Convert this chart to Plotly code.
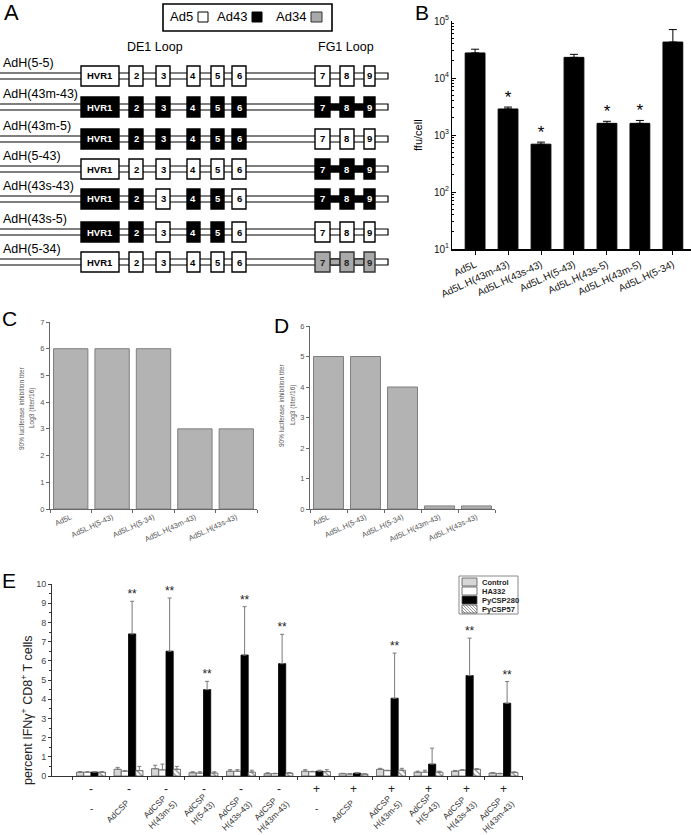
import plotly.graph_objects as go

# ---------------- DATA ----------------
# Panel A: constructs and serotype origin of each hypervariable region
constructs = ["AdH(5-5)", "AdH(43m-43)", "AdH(43m-5)", "AdH(5-43)",
              "AdH(43s-43)", "AdH(43s-5)", "AdH(5-34)"]
region_names = ["HVR1", "2", "3", "4", "5", "6", "7", "8", "9"]
comp_5_5 = ["5", "5", "5", "5", "5", "5", "5", "5", "5"]
comp_43m_43 = ["43", "43", "43", "43", "43", "43", "43", "43", "43"]
comp_43m_5 = ["43", "43", "43", "43", "43", "43", "5", "5", "5"]
comp_5_43 = ["5", "5", "5", "5", "5", "5", "43", "43", "43"]
comp_43s_43 = ["43", "43", "5", "43", "43", "5", "43", "43", "43"]
comp_43s_5 = ["43", "43", "5", "43", "43", "5", "5", "5", "5"]
comp_5_34 = ["5", "5", "5", "5", "5", "5", "34", "34", "34"]
compositions = [comp_5_5, comp_43m_43, comp_43m_5, comp_5_43,
                comp_43s_43, comp_43s_5, comp_5_34]
legend_a = ["Ad5", "Ad43", "Ad34"]

# Panel B
b_labels = ["Ad5L", "Ad5L.H(43m-43)", "Ad5L.H(43s-43)", "Ad5L.H(5-43)",
            "Ad5L.H(43s-5)", "Ad5L.H(43m-5)", "Ad5L.H(5-34)"]
b_values = [27500, 2860, 690, 23000, 1600, 1600, 42700]
b_err = [4500, 230, 60, 3000, 140, 200, 28000]
b_sig = ["", "*", "*", "", "*", "*", ""]
b_tickvals = [10, 100, 1000, 10000, 100000]
b_ticktext = ["10<sup>1</sup>", "10<sup>2</sup>", "10<sup>3</sup>", "10<sup>4</sup>", "10<sup>5</sup>"]

# Panels C and D
cd_labels = ["Ad5L", "Ad5L.H(5-43)", "Ad5L.H(5-34)", "Ad5L.H(43m-43)", "Ad5L.H(43s-43)"]
c_values = [6, 6, 6, 3, 3]
d_values = [5, 5, 4, 0.1, 0.1]

# Panel E
e_row1 = ["-", "-", "-", "-", "-", "-", "+", "+", "+", "+", "+", "+"]
e_row2 = ["-", "AdCSP", "AdCSP<br>H(43m-5)", "AdCSP<br>H(5-43)", "AdCSP<br>H(43s-43)",
          "AdCSP<br>H(43m-43)",
          "-", "AdCSP", "AdCSP<br>H(43m-5)", "AdCSP<br>H(5-43)", "AdCSP<br>H(43s-43)",
          "AdCSP<br>H(43m-43)"]
e_series = ["Control", "HA332", "PyCSP280", "PyCSP57"]
e_control = [0.20, 0.35, 0.38, 0.17, 0.25, 0.12, 0.25, 0.12, 0.35, 0.20, 0.25, 0.15]
e_ha332 = [0.20, 0.25, 0.32, 0.15, 0.25, 0.12, 0.22, 0.10, 0.28, 0.20, 0.30, 0.12]
e_py280 = [0.20, 7.40, 6.50, 4.50, 6.30, 5.85, 0.25, 0.15, 4.05, 0.62, 5.23, 3.79]
e_py57 = [0.20, 0.28, 0.35, 0.15, 0.20, 0.15, 0.23, 0.10, 0.30, 0.20, 0.35, 0.18]
e_control_err = [0.03, 0.10, 0.18, 0.05, 0.08, 0.05, 0.08, 0.02, 0.05, 0.05, 0.04, 0.03]
e_ha332_err = [0.02, 0.03, 0.30, 0.07, 0.08, 0.02, 0.02, 0.02, 0.02, 0.10, 0.03, 0.02]
e_py280_err = [0.03, 1.70, 2.77, 0.43, 2.52, 1.53, 0.05, 0.02, 2.35, 0.83, 1.95, 1.13]
e_py57_err = [0.03, 0.22, 0.15, 0.07, 0.10, 0.03, 0.10, 0.02, 0.10, 0.05, 0.03, 0.04]
e_sig = ["", "**", "**", "**", "**", "**", "", "", "**", "", "**", "**"]

# ---------------- STYLE / LAYOUT CONSTANTS ----------------
W, H = 691, 835
FONT = "Arial, Liberation Sans, sans-serif"


def fx(p):
    return p / W


def fy(p):
    return 1 - p / H


sero_fill = {"5": "white", "43": "black", "34": "#a9a9a9"}
sero_text = {"5": "black", "43": "white", "34": "#222"}
row_y = [76, 107, 139, 169, 199, 232, 262]
region_x = [(81, 119), (129, 143), (156, 170), (187, 200), (211, 224), (232, 246),
            (315, 330), (340, 354), (364, 375)]
BAR_END = 388

shapes = []
annots = []


def rect(x0, y0, x1, y1, fill, line="black", lw=1.2):
    shapes.append(dict(type="rect", xref="paper", yref="paper", x0=fx(x0), x1=fx(x1),
                       y0=fy(y1), y1=fy(y0), fillcolor=fill,
                       line=dict(color=line, width=lw), layer="above"))


def text(x, y, s, size, color="black", xanchor="center", yanchor="middle", bold=False,
         angle=0):
    annots.append(dict(x=fx(x), y=fy(y), xref="paper", yref="paper", text=s,
                       showarrow=False, xanchor=xanchor, yanchor=yanchor, textangle=angle,
                       font=dict(family=FONT, size=size, color=color,
                                 weight="bold" if bold else "normal")))


# ---------------- PANEL A ----------------
text(2, 13, "A", 22, xanchor="left")
rect(163, 4, 332, 31, "white", lw=1.6)
leg_sw = [(198, 208), (252, 262), (311, 322)]
leg_keys = ["5", "43", "34"]
for name, (s0, s1), key in zip(legend_a, leg_sw, leg_keys):
    text(s0 - 3, 17, name, 13, xanchor="right")
    rect(s0, 12, s1, 22, sero_fill[key], line="#333" if key == "34" else "black", lw=1)
text(155, 47, "DE1 Loop", 12.5)
text(346, 47, "FG1 Loop", 12.5)

for name, comp, cy in zip(constructs, compositions, row_y):
    text(1, cy - 13, name, 12.5, xanchor="left")
    rect(-2, cy - 3, BAR_END, cy + 3, "white", lw=1.2)
    fg = comp[7]
    if fg != "5":
        rect(region_x[6][1], cy - 3, region_x[7][0], cy + 3, sero_fill[fg], lw=1.2)
        rect(region_x[7][1], cy - 3, region_x[8][0], cy + 3, sero_fill[fg], lw=1.2)
    for lab, sero, (x0, x1) in zip(region_names, comp, region_x):
        rect(x0, cy - 10, x1, cy + 10, sero_fill[sero],
             line="#333" if sero == "34" else "black", lw=1.4)
        text((x0 + x1) / 2, cy, lab, 9.5, color=sero_text[sero], bold=True)

# ---------------- PANEL LETTERS ----------------
text(413, 12, "B", 21, xanchor="left")
text(0, 318, "C", 21, xanchor="left")
text(272, 325, "D", 21, xanchor="left")
text(0, 580, "E", 21, xanchor="left")

fig = go.Figure()

# ---------------- PANEL B ----------------
bx = list(range(len(b_labels)))
fig.add_trace(go.Bar(
    x=bx, y=b_values, width=0.6, xaxis="x", yaxis="y", showlegend=False,
    marker=dict(color="black", line=dict(color="black", width=1)),
    error_y=dict(type="data", symmetric=False, array=b_err, arrayminus=[0] * len(b_err),
                 color="black", thickness=1, width=4)))
sx = [i for i, s in enumerate(b_sig) if s]
fig.add_trace(go.Scatter(
    x=sx, y=[b_values[i] + b_err[i] for i in sx], text=[b_sig[i] for i in sx],
    mode="text", textposition="top center", xaxis="x", yaxis="y", showlegend=False,
    textfont=dict(family=FONT, size=17, color="black"), cliponaxis=False))
text(418, 135, "ffu/cell", 11, angle=-90)

# ---------------- PANELS C & D ----------------
cx = list(range(len(cd_labels)))
fig.add_trace(go.Bar(x=cx, y=c_values, width=0.83, xaxis="x2", yaxis="y2", showlegend=False,
                     marker=dict(color="#b3b3b3", line=dict(color="#7f7f7f", width=1))))
fig.add_trace(go.Bar(x=cx, y=d_values, width=0.81, xaxis="x3", yaxis="y3", showlegend=False,
                     marker=dict(color="#b3b3b3", line=dict(color="#7f7f7f", width=1))))
text(21, 408, "90% luciferase inhibition titer", 6.5, color="#555", angle=-90)
text(32, 408, "Log3 (titer/16)", 6.5, color="#555", angle=-90)
text(282, 405, "90% luciferase inhibition titer", 6.5, color="#555", angle=-90)
text(293, 405, "Log3 (titer/16)", 6.5, color="#555", angle=-90)

# ---------------- PANEL E ----------------
ex = list(range(len(e_row1)))
e_vals = [e_control, e_ha332, e_py280, e_py57]
e_errs = [e_control_err, e_ha332_err, e_py280_err, e_py57_err]
e_marker = [
    dict(color="#d6d6d6", line=dict(color="#555", width=0.8)),
    dict(color="white", line=dict(color="#555", width=0.8)),
    dict(color="black", line=dict(color="black", width=0.8)),
    dict(color="white", line=dict(color="#555", width=0.8),
         pattern=dict(shape="\\", fgcolor="#666", bgcolor="white", size=4, solidity=0.25)),
]
for name, vals, errs, mk in zip(e_series, e_vals, e_errs, e_marker):
    fig.add_trace(go.Bar(
        x=ex, y=vals, name=name, xaxis="x4", yaxis="y4", showlegend=False, marker=mk,
        error_y=dict(type="data", symmetric=False, array=errs, arrayminus=[0] * len(errs),
                     color="#7a7a7a", thickness=1, width=2)))
STAR_OFF = 0.096
es = [i for i, s in enumerate(e_sig) if s]
fig.add_trace(go.Scatter(
    x=[i + STAR_OFF for i in es], y=[e_py280[i] + e_py280_err[i] for i in es],
    text=[e_sig[i] for i in es], mode="text", textposition="top center",
    xaxis="x4", yaxis="y4", showlegend=False, cliponaxis=False,
    textfont=dict(family=FONT, size=12, color="#222")))
for i, s in enumerate(e_row1):
    annots.append(dict(x=i, y=fy(789), xref="x4", yref="paper", text=s, showarrow=False,
                       xanchor="center", yanchor="middle",
                       font=dict(family=FONT, size=12, color="#222")))
# second row of group labels (rotated)
for i, s in enumerate(e_row2):
    nlines = s.count("<br>") + 1
    if s == "-":
        annots.append(dict(x=i, y=fy(808), xref="x4", yref="paper", text=s, showarrow=False,
                           xanchor="center", yanchor="middle",
                           font=dict(family=FONT, size=10, color="#333")))
        continue
    annots.append(dict(x=i, y=fy(788 if nlines > 1 else 795), xref="x4", yref="paper",
                       text=s, showarrow=False, textangle=-45, align="center",
                       xanchor="right", yanchor="top", xshift=16 if nlines > 1 else 6,
                       font=dict(family=FONT, size=8.5, color="#333")))
text(27, 711, "percent IFN\u03b3<sup>+</sup> CD8<sup>+</sup> T cells", 12.5, color="#222",
     angle=-90)

# manual legend for E
rect(459, 576, 518, 614, "white", line="#888", lw=1)
leg_rows = [582, 591, 600, 609]
leg_fill = ["#d6d6d6", "white", "black", "white"]
for name, ly, fill in zip(e_series, leg_rows, leg_fill):
    rect(462, ly - 4, 477, ly + 4, fill, line="#555", lw=0.8)
    text(480, ly, name, 7.5, color="#222", xanchor="left", bold=True)
# hatch for PyCSP57 swatch
hx0, hx1, hy0, hy1 = 462, 477, leg_rows[3] - 4, leg_rows[3] + 4
hh = hy1 - hy0
k = hx0 - hh
while k < hx1:
    t0 = max(0, (hx0 - k) / hh)
    t1 = min(1, (hx1 - k) / hh)
    if t1 > t0:
        shapes.append(dict(type="line", xref="paper", yref="paper",
                           x0=fx(k + t0 * hh), y0=fy(hy0 + t0 * hh),
                           x1=fx(k + t1 * hh), y1=fy(hy0 + t1 * hh),
                           line=dict(color="#666", width=0.7), layer="above"))
    k += 3

# ---------------- LAYOUT ----------------
def minor_log():
    vals = []
    for dec in [10, 100, 1000, 10000]:
        for m in range(2, 10):
            vals.append(dec * m)
    return vals


axis_common = dict(showgrid=False, zeroline=False, fixedrange=True, automargin=False)
fig.update_layout(
    template="none",
    width=W, height=H, autosize=False,
    margin=dict(l=0, r=0, t=0, b=0, pad=0),
    paper_bgcolor="white", plot_bgcolor="rgba(0,0,0,0)",
    font=dict(family=FONT),
    barmode="group", bargap=0.23, bargroupgap=0,
    showlegend=False,
    xaxis=dict(domain=[fx(452), 1], range=[-0.7, 6.55], anchor="y",
               tickmode="array", tickvals=bx, ticktext=b_labels, tickangle=-25,
               ticks="outside", ticklen=4, tickcolor="black",
               showline=True, linecolor="black", linewidth=2,
               tickfont=dict(family=FONT, size=10, color="#111"), **axis_common),
    yaxis=dict(domain=[fy(249), fy(21)], type="log", range=[1, 5], anchor="x",
               tickmode="array", tickvals=b_tickvals, ticktext=b_ticktext,
               ticks="inside", ticklen=4, tickcolor="black",
               minor=dict(tickmode="array", tickvals=minor_log(), ticks="inside",
                          ticklen=2, tickcolor="black"),
               showline=True, linecolor="black", linewidth=1,
               tickfont=dict(family=FONT, size=10, color="#111"), **axis_common),
    xaxis2=dict(domain=[fx(50), fx(257)], range=[-0.5, 4.5], anchor="y2",
                tickmode="array", tickvals=cx, ticktext=cd_labels, tickangle=-25,
                ticks="", minor=dict(tickmode="array", tickvals=[-0.5, 0.5, 1.5, 2.5, 3.5, 4.5],
                                     ticks="outside", ticklen=3, tickcolor="#666"),
                showline=True, linecolor="#666", linewidth=1,
                tickfont=dict(family=FONT, size=7.5, color="#555"), **axis_common),
    yaxis2=dict(domain=[fy(509), fy(322)], range=[0, 7], anchor="x2", dtick=1,
                ticks="outside", ticklen=3, tickcolor="#666",
                showline=True, linecolor="#666", linewidth=1,
                tickfont=dict(family=FONT, size=7.5, color="#555"), **axis_common),
    xaxis3=dict(domain=[fx(310), fx(495)], range=[-0.5, 4.5], anchor="y3",
                tickmode="array", tickvals=cx, ticktext=cd_labels, tickangle=-25,
                ticks="", minor=dict(tickmode="array", tickvals=[-0.5, 0.5, 1.5, 2.5, 3.5, 4.5],
                                     ticks="outside", ticklen=3, tickcolor="#666"),
                showline=True, linecolor="#666", linewidth=1,
                tickfont=dict(family=FONT, size=7.5, color="#555"), **axis_common),
    yaxis3=dict(domain=[fy(509), fy(326)], range=[0, 6], anchor="x3", dtick=1,
                ticks="outside", ticklen=3, tickcolor="#666",
                showline=True, linecolor="#666", linewidth=1,
                tickfont=dict(family=FONT, size=7.5, color="#555"), **axis_common),
    xaxis4=dict(domain=[fx(52), fx(523)], range=[-1.04, 11.52], anchor="y4",
                tickmode="array", tickvals=ex, showticklabels=False, ticks="",
                minor=dict(tickmode="array", tickvals=[i - 0.5 for i in range(13)],
                           ticks="outside", ticklen=3, tickcolor="#333"),
                showline=True, linecolor="#333", linewidth=1, **axis_common),
    yaxis4=dict(domain=[fy(776), fy(584)], range=[0, 10], anchor="x4", dtick=1,
                ticks="outside", ticklen=3, tickcolor="#333",
                minor=dict(dtick=0.5, ticks="outside", ticklen=2, tickcolor="#333"),
                showline=True, linecolor="#333", linewidth=1,
                tickfont=dict(family=FONT, size=9, color="#444"), **axis_common),
    shapes=shapes,
    annotations=annots,
)

fig.write_html("out.html", config={"displayModeBar": False},
               post_script="document.body.style.margin='0';document.body.style.overflow='hidden';")
